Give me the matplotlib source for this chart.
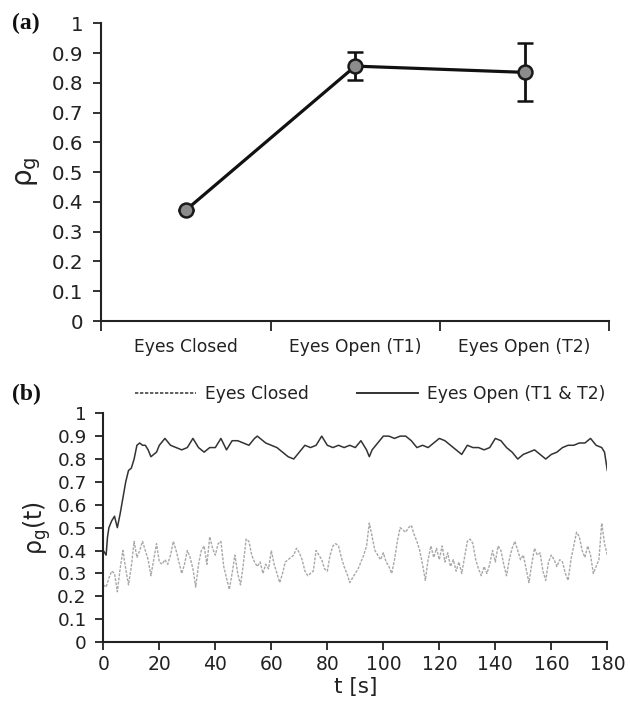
import matplotlib
matplotlib.use("Agg")
import matplotlib.pyplot as plt
from matplotlib.lines import Line2D
import numpy as np

# ---- Panel (a) data ----
conditions = ["Eyes Closed", "Eyes Open (T1)", "Eyes Open (T2)"]
rho_mean = [0.373, 0.856, 0.835]
rho_err_low = [0.0, 0.047, 0.097]
rho_err_high = [0.0, 0.047, 0.097]

# ---- Panel (b) data ----
t_open = [0, 1, 1.5, 2, 3, 4, 5, 6, 7, 8, 9, 10, 11, 12, 13, 14, 15, 16, 17, 18, 19,
          20, 22, 24, 26, 28, 30, 32, 34, 36, 38, 40, 42, 44, 46, 48, 50, 52, 54, 55,
          56, 58, 60, 62, 64, 66, 68, 70, 72, 74, 76, 78, 80, 82, 84, 86, 88, 90, 92,
          94, 95, 96, 98, 100, 102, 104, 106, 108, 110, 112, 114, 116, 118, 120, 122,
          124, 126, 128, 130, 132, 134, 136, 138, 140, 142, 144, 146, 148, 150, 152,
          154, 156, 158, 160, 162, 164, 166, 168, 170, 172, 174, 176, 178, 179, 180]
rho_open = [0.40, 0.38, 0.46, 0.50, 0.53, 0.55, 0.50, 0.56, 0.63, 0.70, 0.75, 0.76, 0.80,
            0.86, 0.87, 0.86, 0.86, 0.84, 0.81, 0.82, 0.83, 0.86, 0.89, 0.86, 0.85, 0.84,
            0.85, 0.89, 0.85, 0.83, 0.85, 0.85, 0.89, 0.84, 0.88, 0.88, 0.87, 0.86, 0.89,
            0.90, 0.89, 0.87, 0.86, 0.85, 0.83, 0.81, 0.80, 0.83, 0.86, 0.85, 0.86, 0.90,
            0.86, 0.85, 0.86, 0.85, 0.86, 0.85, 0.88, 0.84, 0.81, 0.84, 0.87, 0.90, 0.90,
            0.89, 0.90, 0.90, 0.88, 0.85, 0.86, 0.85, 0.87, 0.89, 0.88, 0.86, 0.84, 0.82,
            0.86, 0.85, 0.85, 0.84, 0.85, 0.89, 0.88, 0.85, 0.83, 0.80, 0.82, 0.83, 0.84,
            0.82, 0.80, 0.82, 0.83, 0.85, 0.86, 0.86, 0.87, 0.87, 0.89, 0.86, 0.85, 0.83,
            0.75]

t_closed = list(range(0, 181))
rho_closed = [0.25, 0.24, 0.28, 0.31, 0.30, 0.22, 0.32, 0.40, 0.32, 0.25,
              0.33, 0.44, 0.37, 0.40, 0.44, 0.40, 0.36, 0.29, 0.36, 0.43,
              0.35, 0.34, 0.36, 0.34, 0.38, 0.44, 0.40, 0.35, 0.30, 0.34,
              0.40, 0.37, 0.32, 0.24, 0.34, 0.40, 0.42, 0.34, 0.46, 0.41,
              0.38, 0.43, 0.44, 0.33, 0.28, 0.23, 0.30, 0.38, 0.30, 0.25,
              0.34, 0.45, 0.44, 0.38, 0.35, 0.33, 0.35, 0.30, 0.34, 0.32,
              0.40, 0.34, 0.30, 0.26, 0.30, 0.35, 0.36, 0.37, 0.38, 0.41,
              0.39, 0.36, 0.31, 0.29, 0.30, 0.31, 0.40, 0.38, 0.36, 0.32,
              0.31, 0.38, 0.42, 0.43, 0.42, 0.37, 0.33, 0.30, 0.26, 0.28,
              0.30, 0.32, 0.35, 0.38, 0.42, 0.52, 0.46, 0.40, 0.38, 0.36,
              0.39, 0.35, 0.33, 0.30, 0.36, 0.44, 0.50, 0.49, 0.48, 0.50,
              0.51, 0.47, 0.44, 0.40, 0.34, 0.27, 0.36, 0.42, 0.37, 0.41,
              0.36, 0.42, 0.35, 0.39, 0.33, 0.36, 0.31, 0.35, 0.30, 0.37,
              0.44, 0.45, 0.43, 0.36, 0.32, 0.29, 0.33, 0.30, 0.34, 0.40,
              0.35, 0.42, 0.40, 0.34, 0.29, 0.36, 0.41, 0.44, 0.40, 0.36,
              0.38, 0.32, 0.26, 0.34, 0.41, 0.38, 0.39, 0.31, 0.27, 0.35,
              0.38, 0.36, 0.33, 0.36, 0.35, 0.30, 0.27, 0.36, 0.42, 0.48,
              0.46, 0.40, 0.37, 0.42, 0.38, 0.30, 0.33, 0.36, 0.52, 0.43,
              0.38]

yticks = [0, 0.1, 0.2, 0.3, 0.4, 0.5, 0.6, 0.7, 0.8, 0.9, 1]
yticklabels = ["0", "0.1", "0.2", "0.3", "0.4", "0.5", "0.6", "0.7", "0.8", "0.9", "1"]
xticks_b = [0, 20, 40, 60, 80, 100, 120, 140, 160, 180]

plt.rcParams["font.family"] = ["DejaVu Sans"]
TXT = "#222222"

fig = plt.figure(figsize=(6.3, 7.04), dpi=100)

def style_axes(ax, ysize, ypad):
    for s in ["top", "right"]:
        ax.spines[s].set_visible(False)
    for s in ["left", "bottom"]:
        ax.spines[s].set_linewidth(1.5)
        ax.spines[s].set_color("#222222")
    ax.tick_params(axis="both", direction="out", width=1.3, length=6,
                   colors="#222222", labelcolor=TXT)
    ax.tick_params(axis="y", pad=ypad)
    ax.set_yticks(yticks)
    ax.set_yticklabels(yticklabels, fontsize=ysize)
    ax.set_ylim(0, 1)

# Panel (a)
axa = fig.add_axes([0.161, 0.544, 0.806, 0.423])
style_axes(axa, 14.3, 7)
xpos = np.arange(len(conditions)) + 0.5
axa.errorbar(xpos, rho_mean, yerr=[rho_err_low, rho_err_high], color="#111111",
             lw=2.3, marker="o", markersize=10, markerfacecolor="#8c8c8c",
             markeredgecolor="#1a1a1a", markeredgewidth=1.8, capsize=6,
             elinewidth=2.0, capthick=2.0, zorder=3)
axa.set_xlim(0, 3)
axa.set_xticks([0, 1, 2, 3])
axa.set_xticklabels([])
axa.set_xticks(xpos, minor=True)
axa.set_xticklabels(conditions, minor=True, fontsize=12.3, color=TXT)
axa.tick_params(axis="x", which="minor", length=0, pad=12)
axa.tick_params(axis="x", which="major", length=7)
axa.set_ylabel("ρ$_{\\mathrm{g}}$", fontsize=20, color=TXT, labelpad=6)
fig.text(0.019, 0.967, "(a)", fontsize=17, fontweight="bold",
         family="Liberation Serif", va="center", color="#111111")

# Panel (b)
axb = fig.add_axes([0.164, 0.088, 0.8, 0.325])
style_axes(axb, 13.3, 6)
axb.plot(t_closed, rho_closed, color="#a8a8a8", lw=1.0, ls=(0, (2, 1)))
axb.plot(t_open, rho_open, color="#333333", lw=1.1)
axb.set_xlim(0, 180)
axb.set_xticks(xticks_b)
axb.set_xticklabels([str(v) for v in xticks_b], fontsize=13.5)
axb.set_xlabel("t [s]", fontsize=15.5, color=TXT, labelpad=2)
axb.set_ylabel("ρ$_{\\mathrm{g}}$(t)", fontsize=17, color=TXT, labelpad=3)
fig.text(0.019, 0.440, "(b)", fontsize=17, fontweight="bold",
         family="Liberation Serif", va="center", color="#111111")

handles = [Line2D([], [], color="#444444", lw=1.2, ls=(0, (2, 1))),
           Line2D([], [], color="#333333", lw=1.4)]
fig.legend(handles, ["Eyes Closed", "Eyes Open (T1 & T2)"], loc="center",
           bbox_to_anchor=(370 / 630, 1 - 394 / 704), ncol=2, frameon=False,
           fontsize=12.3, handlelength=3.6, handletextpad=0.5, columnspacing=2.8,
           labelcolor=TXT)

fig.savefig("out.png", dpi=100)
